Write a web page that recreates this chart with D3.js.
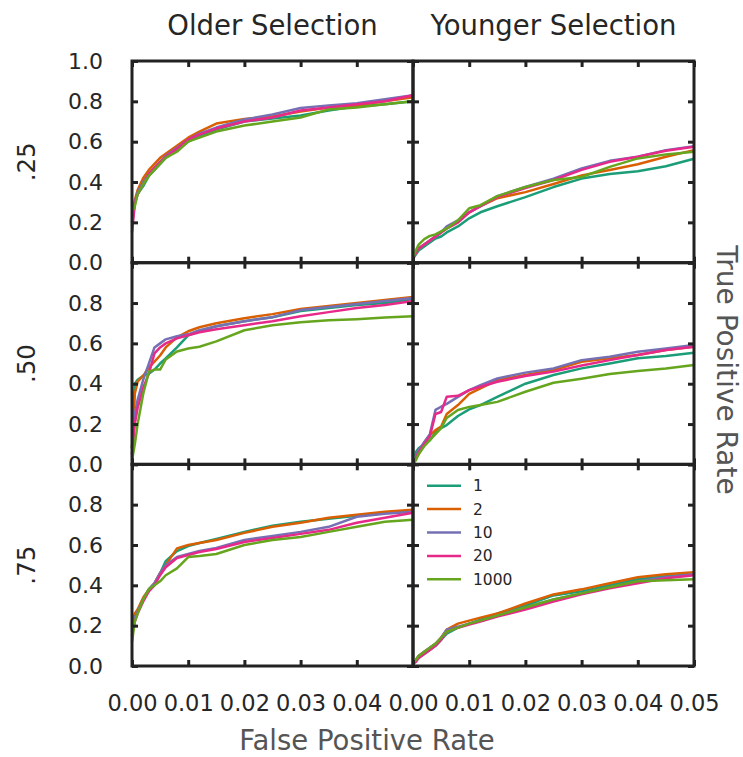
<!DOCTYPE html>
<html>
<head>
<meta charset="utf-8">
<script src="https://cdn.jsdelivr.net/npm/d3@7"></script>
<style>
  html, body { margin: 0; padding: 0; background: #fff; }
  svg { display: block; font-family: "DejaVu Sans", sans-serif; }
</style>
</head>
<body>
<svg id="chart" width="743" height="757"></svg>
<script>
// ---------------- data ----------------
const columns = ["Older Selection", "Younger Selection"];
const rowLabels = [".25", ".50", ".75"];
const seriesNames = ["1", "2", "10", "20", "1000"];
const seriesColors = ["#1b9e77", "#d95f02", "#7570b3", "#e7298a", "#66a61e"];

const fpr = [0, 0.0005, 0.001, 0.002, 0.003, 0.004, 0.005, 0.006, 0.008, 0.01,
             0.012, 0.015, 0.02, 0.025, 0.03, 0.035, 0.04, 0.045, 0.05];

const yTicksTop = [0, 0.2, 0.4, 0.6, 0.8, 1.0];
const yTicksOther = [0, 0.2, 0.4, 0.6, 0.8];
const xTicksLeft = [0, 0.01, 0.02, 0.03, 0.04];
const xTicksRight = [0, 0.01, 0.02, 0.03, 0.04, 0.05];

// TPR per series (order: 1, 2, 10, 20, 1000)
const tprOlder25 = [
  [0.20,0.30,0.34,0.38,0.43,0.46,0.49,0.52,0.56,0.60,0.63,0.66,0.70,0.715,0.73,0.755,0.775,0.785,0.80],
  [0.20,0.31,0.36,0.42,0.46,0.49,0.52,0.54,0.58,0.62,0.65,0.69,0.713,0.725,0.75,0.77,0.78,0.80,0.82],
  [0.18,0.30,0.35,0.40,0.44,0.47,0.50,0.53,0.57,0.61,0.64,0.67,0.71,0.735,0.767,0.78,0.79,0.81,0.83],
  [0.15,0.29,0.34,0.39,0.44,0.47,0.50,0.525,0.565,0.61,0.635,0.665,0.70,0.72,0.755,0.77,0.785,0.80,0.83],
  [0.25,0.28,0.34,0.39,0.43,0.46,0.49,0.52,0.55,0.60,0.62,0.65,0.68,0.70,0.72,0.76,0.77,0.785,0.80]
];
const tprYounger25 = [
  [0.02,0.04,0.06,0.08,0.10,0.12,0.13,0.15,0.18,0.22,0.25,0.28,0.325,0.375,0.417,0.44,0.453,0.478,0.515],
  [0.02,0.05,0.07,0.09,0.11,0.13,0.15,0.17,0.20,0.25,0.28,0.32,0.35,0.39,0.433,0.46,0.488,0.525,0.558],
  [0.03,0.05,0.07,0.09,0.11,0.13,0.15,0.18,0.21,0.25,0.28,0.33,0.375,0.417,0.467,0.505,0.525,0.558,0.578],
  [0.02,0.05,0.07,0.09,0.11,0.13,0.15,0.17,0.20,0.25,0.28,0.325,0.37,0.41,0.46,0.50,0.525,0.555,0.575],
  [0.03,0.06,0.09,0.117,0.133,0.14,0.155,0.17,0.21,0.27,0.285,0.33,0.375,0.41,0.425,0.475,0.517,0.537,0.55]
];
const tprOlder50 = [
  [0.08,0.40,0.42,0.44,0.45,0.47,0.50,0.525,0.58,0.64,0.66,0.685,0.71,0.73,0.76,0.775,0.79,0.80,0.82],
  [0.08,0.35,0.41,0.44,0.48,0.51,0.54,0.58,0.63,0.66,0.68,0.70,0.725,0.745,0.77,0.785,0.80,0.815,0.83],
  [0.05,0.25,0.32,0.42,0.50,0.58,0.60,0.62,0.635,0.645,0.665,0.685,0.71,0.73,0.765,0.78,0.795,0.81,0.825],
  [0.05,0.20,0.28,0.38,0.45,0.55,0.58,0.60,0.625,0.64,0.655,0.67,0.69,0.71,0.735,0.755,0.775,0.79,0.81],
  [0.02,0.10,0.20,0.35,0.46,0.47,0.47,0.52,0.56,0.575,0.583,0.61,0.665,0.69,0.705,0.715,0.72,0.728,0.735]
];
const tprYounger50 = [
  [0.02,0.06,0.08,0.10,0.12,0.16,0.18,0.195,0.24,0.273,0.294,0.335,0.40,0.443,0.476,0.50,0.526,0.537,0.554],
  [0.01,0.03,0.05,0.11,0.145,0.17,0.187,0.25,0.294,0.35,0.377,0.418,0.443,0.468,0.509,0.526,0.542,0.567,0.583],
  [0.01,0.04,0.07,0.11,0.15,0.27,0.286,0.30,0.335,0.368,0.393,0.426,0.455,0.476,0.517,0.534,0.559,0.575,0.592],
  [0.01,0.03,0.06,0.10,0.14,0.25,0.26,0.335,0.34,0.368,0.385,0.41,0.438,0.46,0.49,0.517,0.542,0.567,0.583],
  [0.00,0.02,0.05,0.09,0.12,0.15,0.18,0.23,0.27,0.285,0.295,0.31,0.36,0.405,0.425,0.448,0.463,0.476,0.493]
];
const tprOlder75 = [
  [0.20,0.25,0.27,0.33,0.38,0.41,0.46,0.52,0.57,0.595,0.61,0.63,0.665,0.695,0.715,0.73,0.745,0.76,0.77],
  [0.22,0.26,0.28,0.34,0.38,0.41,0.46,0.50,0.583,0.60,0.61,0.625,0.66,0.69,0.71,0.735,0.75,0.765,0.775],
  [0.17,0.24,0.27,0.33,0.38,0.41,0.46,0.50,0.54,0.555,0.57,0.585,0.625,0.645,0.665,0.69,0.74,0.755,0.765],
  [0.15,0.22,0.26,0.32,0.37,0.40,0.45,0.49,0.535,0.55,0.565,0.58,0.615,0.635,0.655,0.675,0.71,0.735,0.76],
  [0.12,0.22,0.26,0.33,0.38,0.40,0.42,0.45,0.484,0.54,0.545,0.555,0.60,0.625,0.64,0.665,0.69,0.715,0.725]
];
const tprYounger75 = [
  [0.02,0.03,0.04,0.06,0.08,0.10,0.13,0.16,0.19,0.21,0.23,0.26,0.30,0.35,0.37,0.40,0.43,0.445,0.455],
  [0.02,0.03,0.05,0.07,0.09,0.11,0.14,0.18,0.21,0.225,0.24,0.26,0.31,0.355,0.38,0.41,0.44,0.455,0.465],
  [0.02,0.03,0.05,0.07,0.09,0.11,0.14,0.18,0.195,0.21,0.225,0.25,0.29,0.33,0.36,0.39,0.42,0.44,0.455],
  [0.01,0.02,0.04,0.06,0.08,0.10,0.13,0.17,0.19,0.205,0.22,0.245,0.28,0.32,0.355,0.385,0.41,0.435,0.45],
  [0.02,0.03,0.05,0.07,0.09,0.11,0.14,0.17,0.19,0.21,0.225,0.25,0.29,0.33,0.36,0.39,0.42,0.425,0.43]
];
const panelData = [
  [tprOlder25, tprYounger25],
  [tprOlder50, tprYounger50],
  [tprOlder75, tprYounger75]
];

// ---------------- layout ----------------
const colLeft = [132, 413];
const panelW = 281;
const rowTop = [61, 262.7, 464.3];
const panelH = 201.7;
const ink = "#222222";
const textInk = "#262626";
const labelInk = "#555555";
const font = "DejaVu Sans, sans-serif";

const svg = d3.select("#chart");
svg.append("rect").attr("width", 743).attr("height", 757).attr("fill", "#fff");

function styleAxis(g, labelSize) {
  g.select(".domain").remove();
  g.selectAll(".tick line").attr("stroke", ink).attr("stroke-width", 3);
  g.selectAll(".tick text")
    .attr("fill", textInk)
    .attr("font-size", labelSize)
    .attr("font-family", font);
}

for (let r = 0; r < 3; r++) {
  for (let c = 0; c < 2; c++) {
    const x = d3.scaleLinear().domain([0, 0.05]).range([colLeft[c], colLeft[c] + panelW]);
    const y = d3.scaleLinear().domain([0, 1]).range([rowTop[r] + panelH, rowTop[r]]);
    const g = svg.append("g");

    // lines
    const line = d3.line().x((d, i) => x(fpr[i])).y(d => y(d)).curve(d3.curveLinear);
    panelData[r][c].forEach((vals, s) => {
      g.append("path")
        .datum(vals)
        .attr("d", line)
        .attr("fill", "none")
        .attr("stroke", seriesColors[s])
        .attr("stroke-width", 2.5)
        .attr("stroke-linejoin", "round");
    });

    // axes (inward ticks)
    const left = d3.axisLeft(y)
      .tickValues(r === 0 ? yTicksTop : yTicksOther)
      .tickSizeInner(-6).tickSizeOuter(0).tickPadding(29)
      .tickFormat(c === 0 ? d3.format(".1f") : () => "");
    g.append("g").attr("transform", `translate(${colLeft[c]},0)`).call(left).call(a => styleAxis(a, 22));

    const right = d3.axisRight(y).tickValues(yTicksTop)
      .tickSizeInner(-6).tickSizeOuter(0).tickFormat(() => "");
    g.append("g").attr("transform", `translate(${colLeft[c] + panelW},0)`).call(right).call(a => styleAxis(a, 22));

    const top = d3.axisTop(x).tickValues(xTicksRight)
      .tickSizeInner(-6).tickSizeOuter(0).tickFormat(() => "");
    g.append("g").attr("transform", `translate(0,${rowTop[r]})`).call(top).call(a => styleAxis(a, 22));

    const bottomVals = c === 0 ? xTicksLeft : xTicksRight;
    const bottom = d3.axisBottom(x).tickValues(xTicksRight)
      .tickSizeInner(-6).tickSizeOuter(0).tickPadding(29)
      .tickFormat(d => (r === 2 && bottomVals.some(v => Math.abs(v - d) < 1e-9)) ? d3.format(".2f")(d) : "");
    g.append("g").attr("transform", `translate(0,${rowTop[r] + panelH})`).call(bottom).call(a => styleAxis(a, 22.5));

    // frame
    g.append("rect")
      .attr("x", colLeft[c]).attr("y", rowTop[r])
      .attr("width", panelW).attr("height", panelH)
      .attr("fill", "none").attr("stroke", ink).attr("stroke-width", 3);
  }
}

// column titles
columns.forEach((t, c) => {
  svg.append("text")
    .attr("x", colLeft[c] + panelW / 2).attr("y", 35)
    .attr("text-anchor", "middle")
    .attr("font-size", 27.5).attr("font-family", font)
    .attr("fill", textInk).text(t);
});

// row labels
rowLabels.forEach((t, r) => {
  svg.append("text")
    .attr("transform", `translate(35,${rowTop[r] + panelH / 2}) rotate(-90)`)
    .attr("text-anchor", "middle")
    .attr("font-size", 24.5).attr("font-family", font)
    .attr("fill", textInk).text(t);
});

// axis titles
svg.append("text")
  .attr("transform", "translate(717,370) rotate(90)")
  .attr("text-anchor", "middle")
  .attr("font-size", 28).attr("font-family", font)
  .attr("fill", labelInk).text("True Positive Rate");

svg.append("text")
  .attr("x", 367).attr("y", 750)
  .attr("text-anchor", "middle")
  .attr("font-size", 27.5).attr("font-family", font)
  .attr("fill", labelInk).text("False Positive Rate");

// legend in bottom-right panel
const lg = svg.append("g").attr("transform", `translate(${colLeft[1]},${rowTop[2]})`);
seriesNames.forEach((name, i) => {
  const yy = 21.4 + i * 23.4;
  lg.append("line")
    .attr("x1", 14).attr("x2", 48).attr("y1", yy).attr("y2", yy)
    .attr("stroke", seriesColors[i]).attr("stroke-width", 2.5);
  lg.append("text")
    .attr("x", 60).attr("y", yy).attr("dy", "0.35em")
    .attr("font-size", 15.5).attr("font-family", font)
    .attr("fill", textInk).text(name);
});
</script>
</body>
</html>
